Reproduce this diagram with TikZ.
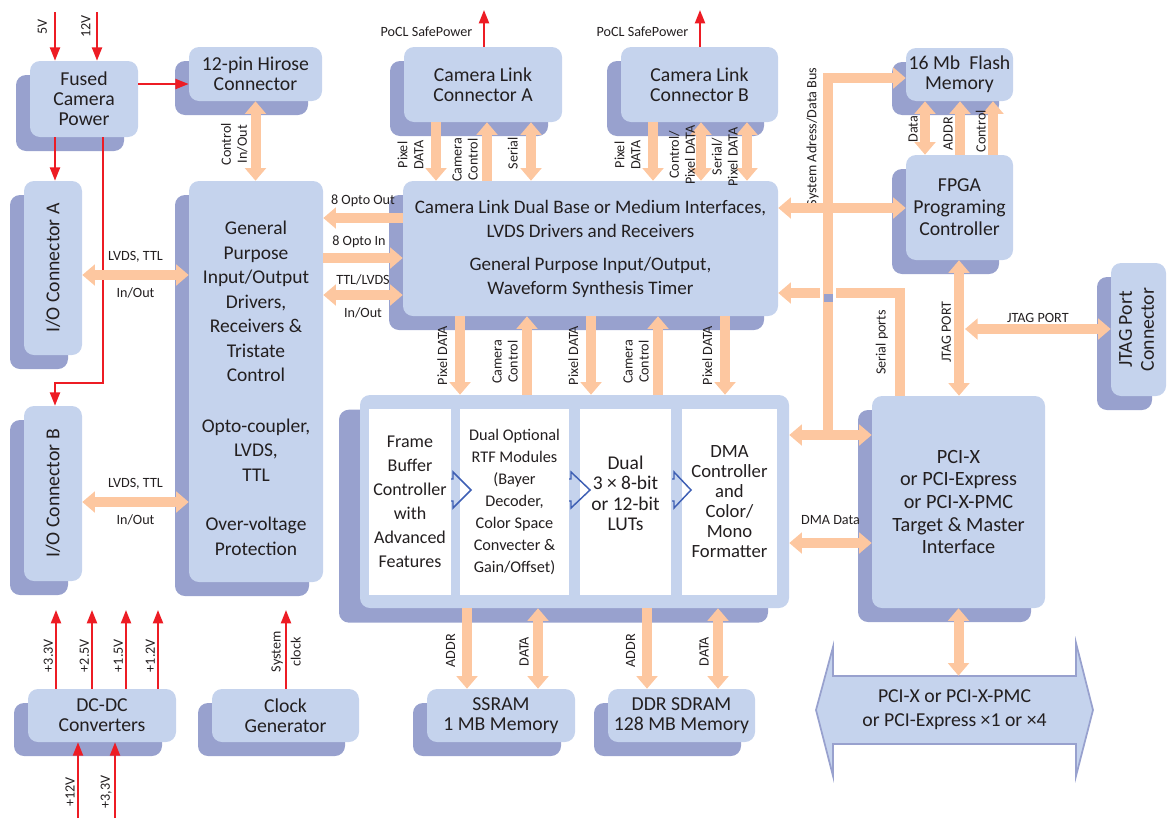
\documentclass[tikz,border=0pt]{standalone}
\usepackage{fontspec}
\setmainfont{Carlito}
\usepackage{graphicx}
\usetikzlibrary{arrows.meta,positioning,shadows}
\definecolor{boxblue}{HTML}{C5D3ED}
\definecolor{shadeblue}{HTML}{98A1CE}
\definecolor{busorange}{HTML}{FDC7A0}
\definecolor{powerred}{HTML}{ED1C24}
\definecolor{flowblue}{HTML}{3E5FB4}
\definecolor{inkgray}{HTML}{231F20}
\newcommand{\boxfont}{\fontsize{14.8}{15}\selectfont}
\newcommand{\lblfont}{\fontsize{10.6}{12}\selectfont}

\begin{document}
\begin{tikzpicture}[
    x=0.75pt, y=-0.75pt,
    sz/.style 2 args={minimum width=#1*0.75pt, minimum height=#2*0.75pt},
    boxbase/.style={rectangle, rounded corners=7.5pt, fill=boxblue, text=inkgray,
                    align=center, inner sep=0pt, font=\boxfont},
    box/.style={boxbase, general shadow={fill=shadeblue, shadow xshift=-10.5pt, shadow yshift=-10.5pt}},
    bigbox/.style={boxbase, general shadow={fill=shadeblue, shadow xshift=-15.75pt, shadow yshift=-11pt}},
    stage/.style={rectangle, fill=white, text=inkgray, align=center, inner sep=0pt},
    bus/.style={draw=busorange, line width=7.5pt, -{Triangle[width=15.5pt,length=9.5pt]}},
    bibus/.style={draw=busorange, line width=7.5pt,
                  {Triangle[width=15.5pt,length=9.5pt]}-{Triangle[width=15.5pt,length=9.5pt]}},
    pwr/.style={draw=powerred, line width=1.5pt, -{Triangle[width=7.5pt,length=10pt]}},
    vlab/.style={font=\lblfont, text=inkgray, rotate=90, anchor=south, align=center,
                 inner sep=0pt, outer sep=7pt},
    hlab/.style={font=\lblfont, text=inkgray, inner sep=1pt}
]
\useasboundingbox (0,0) rectangle (1171,818);

% Top row: power and connectors
\node[box, sz={108}{76}] (fused) at (84,99) {Fused\\Camera\\Power};
\node[box, sz={133}{54}] (hirose) at (255.5,74) {12-pin Hirose\\Connector};
\node[box, sz={158}{75}] (cla) at (483,84.5) {Camera Link\\Connector A};
\node[box, sz={157}{75}] (clb) at (699.5,84.5) {Camera Link\\Connector B};
\node[box, sz={107}{53}] (flash) at (959.5,74.5) {16 Mb~ Flash\\Memory};
\node[box, sz={107}{105}, font=\fontsize{14.8}{16.5}\selectfont] (fpga) at (959.5,207.5) {FPGA\\Programing\\Controller};
\node[box, sz={55}{133}, font=\fontsize{14.8}{16.5}\selectfont] (jtag) at (1138.5,329.5)
    {\rotatebox{90}{\begin{tabular}{@{}c@{}}JTAG Port\\Connector\end{tabular}}};

% Middle: I/O, general purpose, camera link interfaces
\node[box, sz={58}{174}] (ioa) at (53,268) {\rotatebox{90}{I/O Connector A}};
\node[box, sz={58}{175}] (iob) at (53,493.5) {\rotatebox{90}{I/O Connector B}};
\node[box, sz={134}{401}, font=\fontsize{14.6}{18.4}\selectfont] (gpio) at (256,381.5)
    {\rule{0pt}{20pt}General\\Purpose\\Input/Output\\Drivers,\\Receivers \&\\Tristate\\Control\\[19.5pt]Opto-coupler,\\LVDS,\\TTL\\[18.5pt]Over-voltage\\Protection};
\node[box, sz={375}{135}, font=\fontsize{14.3}{18}\selectfont] (cldual) at (590.5,248.5)
    {Camera Link Dual Base or Medium Interfaces,\\LVDS Drivers and Receivers\\[6.75pt]General Purpose Input/Output,\\Waveform Synthesis Timer};
\node[box, sz={173}{212}, font=\fontsize{15.2}{16.9}\selectfont] (pci) at (958.5,502)
    {PCI-X\\or PCI-Express\\or PCI-X-PMC\\Target \& Master\\Interface};

% Processing pipeline
\node[bigbox, sz={429}{213}] (proc) at (574.5,501.5) {};
\node[stage, sz={82}{186}, font=\fontsize{13.5}{18}\selectfont] (fbuf) at (410,502)
    {Frame\\Buffer\\Controller\\with\\Advanced\\Features};
\node[stage, sz={109}{186}, font=\fontsize{12.2}{16.5}\selectfont] (rtf) at (514.5,502)
    {Dual Optional\\RTF Modules\\(Bayer\\Decoder,\\Color Space\\Convecter \&\\Gain/Offset)};
\node[stage, sz={91}{186}, font=\fontsize{14.6}{15.4}\selectfont] (lut) at (625.5,502)
    {Dual\\3 × 8-bit\\or 12-bit\\LUTs\\[-2pt]~};
\node[stage, sz={95}{186}, font=\fontsize{14}{15}\selectfont] (dma) at (729.5,502)
    {DMA\\Controller\\and\\Color/\\Mono\\Formatter};
\foreach \cx/\cw in {451/20, 569/21, 672/19}{
  \draw[flowblue, line width=1.1pt] (\cx,479) -- (\cx+2,479) -- (\cx+2,472) -- (\cx+\cw,490)
      -- (\cx+2,508) -- (\cx+2,501) -- (\cx,501);
}

% Bottom row
\node[box, sz={148}{53}] (dcdc) at (102,715.5) {DC-DC\\Converters};
\node[box, sz={147}{53}] (clkgen) at (285.5,715.5) {Clock\\Generator};
\node[box, sz={148}{53}] (ssram) at (501,715.5) {SSRAM\\1 MB Memory};
\node[box, sz={147}{53}] (ddr) at (681.5,715.5) {DDR SDRAM\\128 MB Memory};
\draw[draw=shadeblue, fill=boxblue, line width=1.3pt] (833,676) -- (833,647) -- (816,710) -- (833,776)
    -- (833,744) -- (1076,744) -- (1076,776) -- (1093,710) -- (1076,643) -- (1076,676) -- cycle;
\node[font=\fontsize{14.8}{18}\selectfont, text=inkgray, align=center, inner sep=0pt, sz={243}{68}]
    (pcibus) at (954.5,710) {PCI-X or PCI-X-PMC\\or PCI-Express ×1 or ×4};

% Power lines
\coordinate (v5) at (55,12);
\coordinate (v12) at (97,12);
\coordinate (rHir) at (0,84);
\coordinate (iobend) at (103,383);
\draw[pwr] (v5) -- node[vlab, pos=.3, outer sep=6pt]{5V} (v5 |- fused.north);
\draw[pwr] (v12) -- node[vlab, pos=.3, outer sep=5pt]{12V} (v12 |- fused.north);
\draw[pwr] (fused.east |- rHir) -- (hirose.west |- rHir);
\draw[pwr] (v5 |- fused.south) -- (v5 |- ioa.north);
\draw[pwr] (iobend |- fused.south) -- (iobend) -| (v5 |- iob.north);
\coordinate (pocla) at (484,10);
\coordinate (poclb) at (700,10);
\draw[pwr] (pocla |- cla.north) -- node[hlab, pos=.4, left=7pt]{PoCL SafePower} (pocla);
\draw[pwr] (poclb |- clb.north) -- node[hlab, pos=.4, left=7pt]{PoCL SafePower} (poclb);
\foreach \vx/\volt in {56/+3.3V, 92/+2.5V, 126/+1.5V, 158/+1.2V}{
  \coordinate (dcout) at (\vx,610);
  \draw[pwr] (dcout |- dcdc.north) -- node[vlab, pos=.42, outer sep=2.25pt]{\volt} (dcout);
}
\foreach \vx/\volt in {78/+12V, 115/{+3,3V}}{
  \coordinate (dcin) at (\vx,818);
  \draw[pwr] (dcin) -- node[vlab, pos=.34, outer sep=2.5pt]{\volt} (dcin |- dcdc.south);
}
\coordinate (sysclk) at (286,610);
\draw[pwr] (sysclk |- clkgen.north) -- node[vlab, pos=.47, anchor=center, outer sep=0pt,
    font=\fontsize{10.6}{15}\selectfont]{System\\clock} (sysclk);

% Data paths
\draw[bibus] (hirose.south) -- node[vlab, pos=.54, outer sep=6pt]{Control\\In/Out} (hirose.south |- gpio.north);
\coordinate (aPix) at (436,0);
\coordinate (aCam) at (487,0);
\coordinate (aSer) at (531,0);
\draw[bus] (aPix |- cla.south) -- node[vlab, pos=.56, outer sep=9.5pt]{Pixel\\DATA} (aPix |- cldual.north);
\draw[bus] (aCam |- cldual.north) -- node[vlab, pos=.36]{Camera\\Control} (aCam |- cla.south);
\draw[bibus] (aSer |- cla.south) -- node[vlab, pos=.53, outer sep=10pt]{Serial} (aSer |- cldual.north);
\coordinate (bPix) at (653,0);
\coordinate (bCtl) at (701,0);
\coordinate (bSer) at (747,0);
\draw[bus] (bPix |- clb.south) -- node[vlab, pos=.56, outer sep=9.5pt]{Pixel\\DATA} (bPix |- cldual.north);
\draw[bibus] (bCtl |- clb.south) -- node[vlab, pos=.56, outer sep=4.5pt]{Control/\\Pixel DATA} (bCtl |- cldual.north);
\draw[bibus] (bSer |- clb.south) -- node[vlab, pos=.59]{Serial/\\Pixel DATA} (bSer |- cldual.north);

\coordinate (rOut) at (0,218);
\coordinate (rIn) at (0,258);
\coordinate (rTtl) at (0,295);
\draw[bus] (cldual.west |- rOut) -- node[hlab, above=4pt]{8 Opto Out} (gpio.east |- rOut);
\draw[bus] (gpio.east |- rIn) -- node[hlab, pos=.45, above=3pt]{8 Opto In} (cldual.west |- rIn);
\draw[bibus] (gpio.east |- rTtl) -- node[hlab, above=3pt]{TTL/LVDS} node[hlab, below=4.5pt]{In/Out} (cldual.west |- rTtl);
\coordinate (rIoa) at (0,275);
\coordinate (rIob) at (0,502);
\draw[bibus] (ioa.east |- rIoa) -- node[hlab, above=4.5pt]{LVDS, TTL} node[hlab, below=4.5pt]{In/Out} (gpio.west |- rIoa);
\draw[bibus] (iob.east |- rIob) -- node[hlab, above=4.5pt]{LVDS, TTL} node[hlab, below=4.5pt]{In/Out} (gpio.west |- rIob);

\foreach \px in {460,591,725}{
  \coordinate (pd) at (\px,0);
  \draw[bus] (pd |- cldual.south) -- node[vlab, pos=.5, outer sep=9.5pt]{Pixel DATA} (pd |- proc.north);
}
\foreach \px in {527,658}{
  \coordinate (cc) at (\px,0);
  \draw[bus] (cc |- proc.north) -- node[vlab, pos=.42]{Camera\\Control} (cc |- cldual.south);
}

% System bus and PCI side
\coordinate (busbot) at (828,435);
\coordinate (bustop) at (828,78);
\coordinate (rFpga) at (0,208);
\coordinate (serturn) at (900,293);
\coordinate (rDma) at (0,543);
\draw[bus] (pci.north -| serturn) -- node[vlab, pos=.52, outer sep=9pt]{Serial ports} (serturn) -- (cldual.east |- serturn);
\fill[white] (820,288) rectangle (823,299);
\fill[white] (833,288) rectangle (836,299);
\draw[bus] (busbot) -- node[vlab, pos=.835]{System Adress/Data Bus} (bustop) -- (bustop -| flash.west);
\fill[shadeblue] (823.5,294) rectangle (832.5,302);
\draw[bibus] (cldual.east |- rFpga) -- (fpga.west |- rFpga);
\draw[bibus] (proc.east |- busbot) -- (pci.west |- busbot);
\draw[bibus] (proc.east |- rDma) -- node[hlab, above=9pt]{DMA Data} (pci.west |- rDma);

\coordinate (fData) at (925,0);
\coordinate (fAddr) at (960,0);
\coordinate (fCtl) at (993,0);
\draw[bibus] (fData |- fpga.north) -- node[vlab, pos=.48, outer sep=5.5pt]{Data} (fData |- flash.south);
\draw[bus] (fAddr |- fpga.north) -- node[vlab, pos=.39, outer sep=5.5pt]{ADDR} (fAddr |- flash.south);
\draw[bus] (fCtl |- fpga.north) -- node[vlab, pos=.44, outer sep=5.5pt]{Control} (fCtl |- flash.south);

\coordinate (jtagx) at (959,0);
\coordinate (jtagend) at (965,329);
\draw[bibus] (jtagx |- fpga.south) -- node[vlab, pos=.53, outer sep=6pt]{JTAG PORT} (jtagx |- pci.north);
\draw[bibus] (jtagend) -- node[hlab, above=0pt]{JTAG PORT} (jtag.west |- jtagend);
\draw[bibus] (pci.south) -- (pci.south |- pcibus.north);

% Memory buses
\coordinate (sAddr) at (467,0);
\coordinate (sData) at (538,0);
\coordinate (dAddr) at (647,0);
\coordinate (dData) at (718,0);
\draw[bus] (sAddr |- proc.south) -- node[vlab, pos=.53, outer sep=9pt]{ADDR} (sAddr |- ssram.north);
\draw[bibus] (sData |- proc.south) -- node[vlab, pos=.54]{DATA} (sData |- ssram.north);
\draw[bus] (dAddr |- proc.south) -- node[vlab, pos=.53, outer sep=9pt]{ADDR} (dAddr |- ddr.north);
\draw[bibus] (dData |- proc.south) -- node[vlab, pos=.54]{DATA} (dData |- ddr.north);
\end{tikzpicture}
\end{document}
